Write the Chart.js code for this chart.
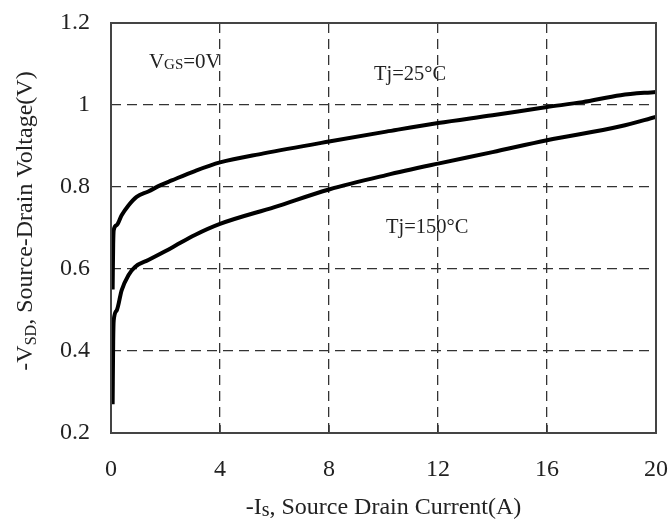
<!DOCTYPE html>
<html>
<head>
<meta charset="utf-8">
<script src="https://cdn.jsdelivr.net/npm/chart.js@4.4.1/dist/chart.umd.min.js"></script>
<style>
  html, body { margin: 0; padding: 0; background: #fff; }
  #wrap { width: 669px; height: 520px; }
</style>
</head>
<body>
<div id="wrap"><canvas id="chart"></canvas></div>
<script>
// -Is (A) against -VSD (V)
var current25 = [0.06, 0.08, 0.1, 0.21, 0.39, 0.64, 0.94, 1.37, 1.8, 2.23, 3.08, 4, 5.6, 8, 10.1, 12, 14, 16, 17.3, 18.7, 20];
var vsd25     = [0.55, 0.66, 0.695, 0.707, 0.731, 0.755, 0.776, 0.789, 0.804, 0.816, 0.839, 0.86, 0.882, 0.911, 0.935, 0.956, 0.975, 0.995, 1.007, 1.024, 1.032];

var current150 = [0.06, 0.08, 0.1, 0.21, 0.39, 0.64, 0.88, 1.37, 2.23, 3.08, 4, 6, 8, 10.1, 12, 14, 16, 18.7, 20];
var vsd150     = [0.27, 0.423, 0.475, 0.499, 0.548, 0.585, 0.605, 0.622, 0.652, 0.683, 0.71, 0.751, 0.794, 0.829, 0.857, 0.885, 0.914, 0.948, 0.971];

var xTicks = [0, 4, 8, 12, 16, 20];
var yTicks = [0.2, 0.4, 0.6, 0.8, 1.0, 1.2];
var yTickLabels = ['0.2', '0.4', '0.6', '0.8', '1', '1.2'];

var SERIF = "'Liberation Serif', 'Times New Roman', serif";
var INK = '#222';

function toPoints(xs, ys) {
  return xs.map(function (x, i) { return { x: x, y: ys[i] }; });
}

// text made of runs, so subscripts can be smaller and lower
function richText(ctx, parts, x, y, align) {
  var total = 0;
  parts.forEach(function (p) {
    ctx.font = p.size + 'px ' + SERIF;
    p.w = ctx.measureText(p.text).width;
    total += p.w;
  });
  var cx = align === 'center' ? x - total / 2 : x;
  ctx.textAlign = 'left';
  parts.forEach(function (p) {
    ctx.font = p.size + 'px ' + SERIF;
    ctx.fillText(p.text, cx, y + (p.dy || 0));
    cx += p.w;
  });
}

function edgeHidden(n) {
  return function (c) {
    return (c.index === 0 || c.index === n - 1) ? 'rgba(0,0,0,0)' : '#333';
  };
}

var decorations = {
  id: 'decorations',
  afterDraw: function (chart) {
    var ctx = chart.ctx, a = chart.chartArea;
    var xs = chart.scales.x, ys = chart.scales.y;
    ctx.save();

    // short inner ticks on the bottom edge
    ctx.strokeStyle = '#333';
    ctx.lineWidth = 1.5;
    xTicks.slice(1, -1).forEach(function (v) {
      var px = xs.getPixelForValue(v);
      ctx.beginPath();
      ctx.moveTo(px, a.bottom);
      ctx.lineTo(px, a.bottom - 8);
      ctx.stroke();
    });

    // box round the plot
    ctx.strokeStyle = '#444';
    ctx.lineWidth = 2;
    ctx.strokeRect(a.left, a.top, a.right - a.left, a.bottom - a.top);

    ctx.fillStyle = INK;
    ctx.textBaseline = 'alphabetic';

    richText(ctx, [
      { text: 'V', size: 21 },
      { text: 'GS', size: 15, dy: 1 },
      { text: '=0V', size: 21 }
    ], xs.getPixelForValue(1.39), ys.getPixelForValue(1.09), 'left');
    richText(ctx, [{ text: 'Tj=25°C', size: 20.5 }],
      xs.getPixelForValue(9.65), ys.getPixelForValue(1.06), 'left');
    richText(ctx, [{ text: 'Tj=150°C', size: 20.5 }],
      xs.getPixelForValue(10.09), ys.getPixelForValue(0.689), 'left');

    // axis titles
    richText(ctx, [
      { text: '-I', size: 24 },
      { text: 's', size: 20, dy: 2 },
      { text: ', Source Drain Current(A)', size: 24 }
    ], (a.left + a.right) / 2, 514, 'center');

    ctx.translate(32, 221);
    ctx.rotate(-Math.PI / 2);
    richText(ctx, [
      { text: '-V', size: 24 },
      { text: 'SD', size: 16, dy: 4 },
      { text: ', Source-Drain Voltage(V)', size: 24 }
    ], 0, 0, 'center');

    ctx.restore();
  }
};

var tickFont = { family: SERIF, size: 24 };

new Chart(document.getElementById('chart').getContext('2d'), {
  type: 'scatter',
  data: {
    datasets: [{
      label: 'Tj=25°C',
      data: toPoints(current25, vsd25),
      showLine: true,
      borderColor: '#000',
      borderWidth: 4,
      pointRadius: 0,
      cubicInterpolationMode: 'monotone'
    },
    {
      label: 'Tj=150°C',
      data: toPoints(current150, vsd150),
      showLine: true,
      borderColor: '#000',
      borderWidth: 4,
      pointRadius: 0,
      cubicInterpolationMode: 'monotone'
    }]
  },
  options: {
    responsive: true,
    maintainAspectRatio: false,
    animation: false,
    layout: { padding: { top: 23, right: 13, left: 0, bottom: 0 } },
    plugins: {
      legend: { display: false },
      tooltip: { enabled: false }
    },
    scales: {
      x: {
        type: 'linear',
        min: 0,
        max: 20,
        afterBuildTicks: function (scale) {
          scale.ticks = xTicks.map(function (v) { return { value: v }; });
        },
        afterFit: function (scale) {
          scale.height = 87;
          scale.paddingLeft = 0;
          scale.paddingRight = 0;
        },
        ticks: { font: tickFont, color: INK, padding: 22, maxRotation: 0, autoSkip: false },
        grid: { color: edgeHidden(xTicks.length), lineWidth: 1.3, drawTicks: false },
        border: { display: false, dash: [10, 6] }
      },
      y: {
        type: 'linear',
        min: 0.2,
        max: 1.2,
        afterBuildTicks: function (scale) {
          scale.ticks = yTicks.map(function (v) { return { value: v }; });
        },
        afterFit: function (scale) {
          scale.width = 111;
          scale.paddingTop = 0;
          scale.paddingBottom = 0;
        },
        ticks: {
          font: tickFont,
          color: INK,
          padding: 21,
          autoSkip: false,
          callback: function (value, index) { return yTickLabels[index]; }
        },
        grid: { color: edgeHidden(yTicks.length), lineWidth: 1.3, drawTicks: false },
        border: { display: false, dash: [10, 6] }
      }
    }
  },
  plugins: [decorations]
});
</script>
</body>
</html>
